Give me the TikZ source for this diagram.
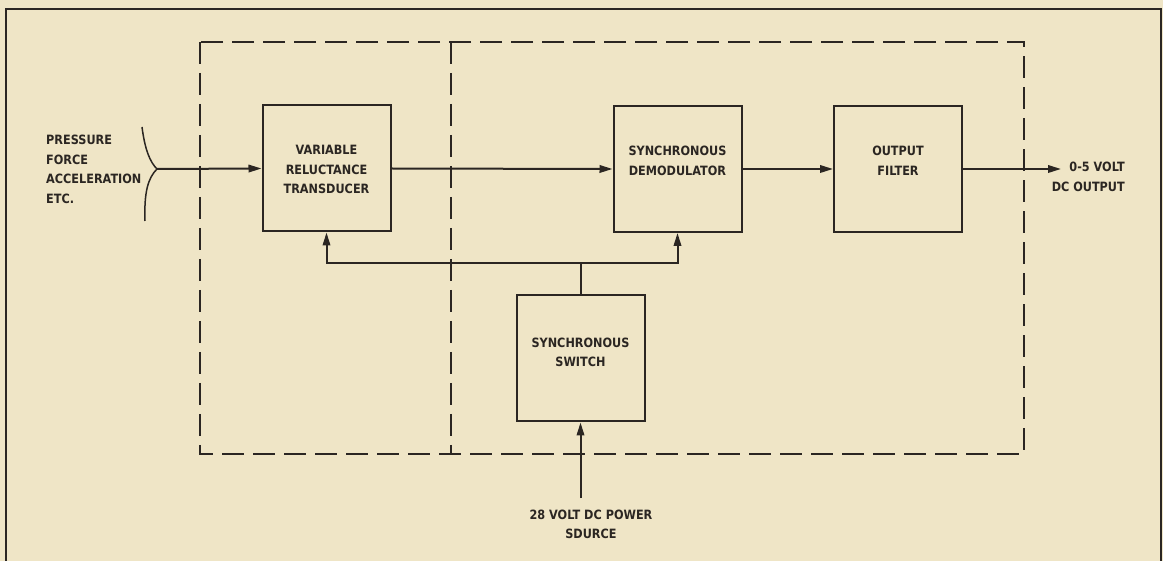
\documentclass[tikz,border=0pt]{standalone}
\usepackage{fontspec}
\setmainfont{DejaVu Sans}[FakeStretch=0.88]
\usetikzlibrary{arrows.meta}
\definecolor{paper}{HTML}{EFE5C6}
\definecolor{ink}{HTML}{2B2622}
\begin{document}
\begin{tikzpicture}[x=1pt,y=-1pt,
  txt/.style={font=\fontsize{12.8}{19.5}\selectfont\bfseries, text=ink, inner sep=0pt},
  blk/.style={draw=ink, line width=2pt, minimum width=128pt, minimum height=126pt, inner sep=0pt},
  wire/.style={draw=ink, line width=2pt},
  arr/.style={wire, -{Triangle[length=13pt,width=7.5pt]}},
  dashbox/.style={draw=ink, line width=2pt, dash pattern=on 22pt off 9pt},
  frame/.style={draw=ink, line width=2.4pt}]
\useasboundingbox[fill=paper] (0,0) rectangle (1163,561);
% outer frame
\draw[frame] (6,561) -- (6,9) -- (1161,9) -- (1161,561);
% dashed enclosures
\draw[dashbox] (200,42) rectangle (1024,454);
\draw[dashbox] (451,42) -- (451,454);
% blocks
\node[blk] (vrt) at (326.5,168.5) {};
\node[blk] (demod) at (677.5,169) {};
\node[blk] (filter) at (898,169) {};
\node[blk] (switch) at (580.5,358.5) {};
\node[txt, align=center] (vrtl) at ([yshift=-1pt]vrt.center) {VARIABLE\\RELUCTANCE\\TRANSDUCER};
\node[txt, align=center] (demodl) at ([yshift=8pt]demod.center) {SYNCHRONOUS\\DEMODULATOR};
\node[txt, align=center] (filterl) at ([yshift=8pt]filter.center) {OUTPUT\\FILTER};
\node[txt, align=center] (switchl) at ([yshift=6pt]switch.center) {SYNCHRONOUS\\SWITCH};
% input labels and bracket
\node[txt, align=left, anchor=west] (inl) at (46,169.5) {PRESSURE\\FORCE\\ACCELERATION\\ETC.};
\coordinate (in) at (157,169);
\draw[wire, line width=1.5pt] (142,127) .. controls (145,150) and (150,162) .. (in);
\draw[wire, line width=1.5pt] (in) .. controls (148,178) and (144,192) .. (145,221);
\draw[arr] (in) -- (vrt.west);
% main chain
\draw[arr] (vrt.east) -- (demod.west);
\draw[arr] (demod.east) -- (filter.west);
\coordinate (out) at (1061,169);
\draw[arr] (filter.east) -- (out);
\node[txt, align=right, anchor=east] (outl) at (1125,177) {0-5 VOLT\\DC OUTPUT};
% switch feed
\coordinate (bus) at (580.5,263);
\draw[wire] (switch.north) -- (bus);
\draw[arr] (bus) -| (vrt.south);
\draw[arr] (bus) -| (demod.south);
% power
\coordinate (src) at (580.5,498);
\draw[arr] (src) -- (switch.south);
\node[txt, align=center] (pwr) at (591,524.5) {28 VOLT DC POWER\\SDURCE};
\end{tikzpicture}
\end{document}
